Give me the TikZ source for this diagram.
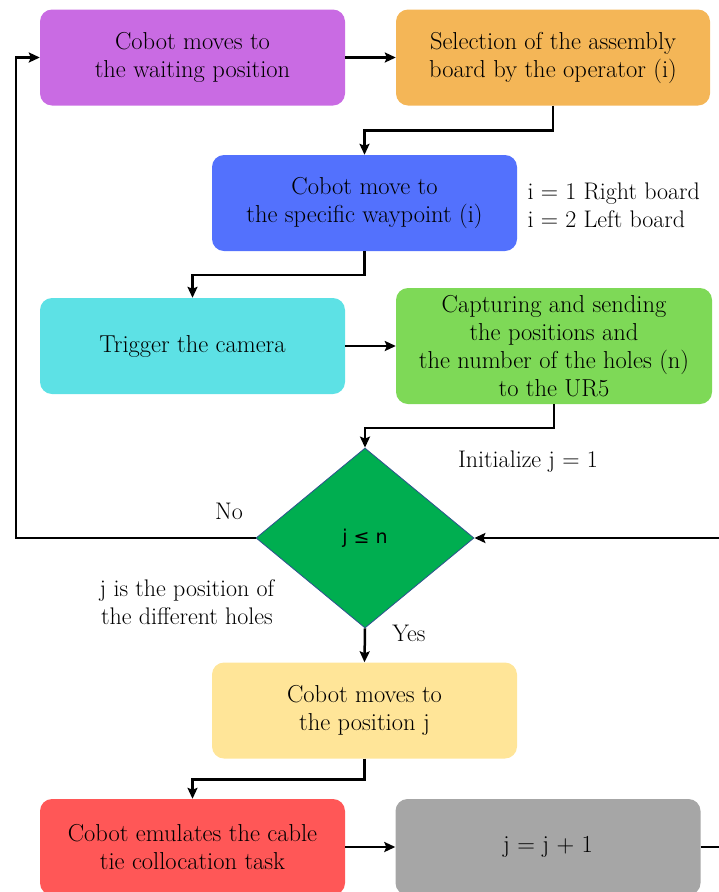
\documentclass[tikz,border=0pt]{standalone}
\usepackage{fontspec}
\usepackage{xcolor}
\usepackage{tikz}
\usetikzlibrary{arrows.meta,shapes.geometric}
\newfontfamily\decfont{DejaVu Sans}

\definecolor{waitpurple}{HTML}{C96BE3}
\definecolor{boardorange}{HTML}{F4B657}
\definecolor{waypointblue}{HTML}{5371FD}
\definecolor{cameracyan}{HTML}{5DE1E5}
\definecolor{capturegreen}{HTML}{7ED957}
\definecolor{decisiongreen}{HTML}{00AE50}
\definecolor{decisionedge}{HTML}{2F528F}
\definecolor{positionyellow}{HTML}{FFE598}
\definecolor{tiered}{HTML}{FF5757}
\definecolor{stepgray}{HTML}{A6A6A6}

\begin{document}
\begin{tikzpicture}[x=1pt,y=-1pt,
    box/.style={rectangle,rounded corners=12pt,minimum width=305pt,minimum height=96pt,
        align=center,inner sep=2pt,font=\fontsize{24.5}{28}\selectfont},
    note/.style={align=center,font=\fontsize{24}{28.5}\selectfont},
    flow/.style={line width=2.5pt,-{Stealth[length=11pt,width=10pt,inset=2pt]}}]
    \useasboundingbox (0,0) rectangle (719,892);

    % Upper boxes
    \node[box,fill=waitpurple] (wait) at (192.5,57.5) {Cobot moves to\\the waiting position};
    \node[box,fill=boardorange,minimum width=314pt] (board) at (553,57.5) {Selection of the assembly\\board by the operator (i)};
    \node[box,fill=waypointblue] (waypoint) at (364.5,203) {Cobot move to\\the specific waypoint (i)};
    \node[box,fill=cameracyan] (camera) at (192.5,346) {Trigger the camera};
    \node[box,fill=capturegreen,minimum width=316pt,minimum height=116pt] (capture) at (554,346)
        {Capturing and sending\\the positions and\\the number of the holes (n)\\to the UR5};

    % Decision
    \node[diamond,fill=decisiongreen,draw=decisionedge,line width=0.8pt,inner sep=0pt,
        minimum width=218pt,minimum height=180pt,font=\decfont\fontsize{19}{22}\selectfont] (check) at (365,538) {j ≤ n};

    % Lower boxes
    \node[box,fill=positionyellow] (position) at (364.5,710.5) {Cobot moves to\\the position j};
    \node[box,fill=tiered] (tie) at (192.5,847) {Cobot emulates the cable\\tie collocation task};
    \node[box,fill=stepgray] (incr) at (548,847) {j = j + 1};

    % Side notes
    \node[note,anchor=west,align=left] (boards) at (524,205.5) {i = 1 Right board\\i = 2 Left board};
    \node[note] (init) at (528,462) {Initialize j = 1};
    \node[note] (no) at (229,511) {No};
    \node[note] (holes) at (187,602) {j is the position of\\the different holes};
    \node[note] (yes) at (409,633) {Yes};

    % Loop corners
    \coordinate (loopL) at (16,538);
    \coordinate (loopR) at (724,847);

    % Connectors
    \draw[flow] (wait) -- (board);
    \draw[flow] (board.south) -- ++(0,25) -| (waypoint.north);
    \draw[flow] (waypoint.south) -- ++(0,24) -| (camera.north);
    \draw[flow] (camera) -- (capture);
    \draw[flow] (capture.south) -- ++(0,24) -| (check.north);
    \draw[flow] (check.west) -- (loopL) |- (wait.west);
    \draw[flow] (check.south) -- (position.north);
    \draw[flow] (position.south) -- ++(0,21) -| (tie.north);
    \draw[flow] (tie) -- (incr);
    \draw[flow] (incr.east) -- (loopR) |- (check.east);
\end{tikzpicture}
\end{document}
